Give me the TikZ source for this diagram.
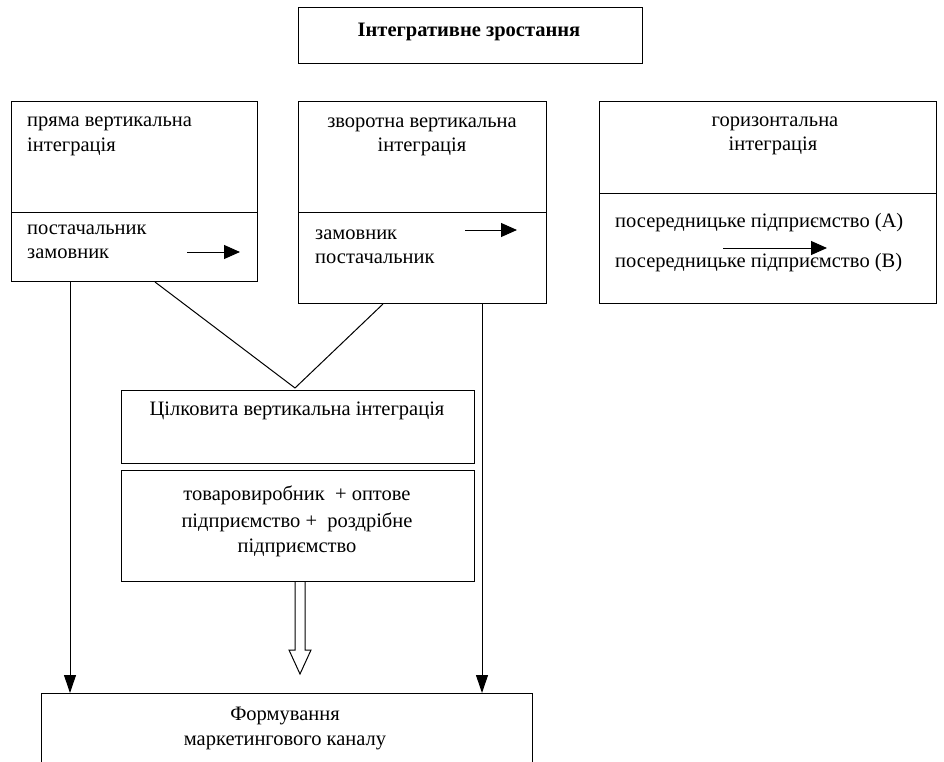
\documentclass[tikz,border=0pt]{standalone}
\usepackage{fontspec}
\setmainfont{Liberation Serif}
\usetikzlibrary{arrows.meta,calc}
\begin{document}
\begin{tikzpicture}[x=1pt,y=-1pt,
  box/.style={draw, line width=1pt, inner sep=0, anchor=north west},
  txt/.style={inner sep=0, font=\fontsize{20.5}{26}\selectfont},
  arr/.style={-{Triangle[width=12pt,length=18pt]}, line width=1pt},
  sarr/.style={-{Triangle[width=14pt,length=16pt]}, line width=1pt},
  ln/.style={line width=1pt}]
\useasboundingbox (0,0) rectangle (944,762);
% boxes
\node[box, minimum width=344pt, minimum height=56pt] (top) at (298,7) {};
\node[box, minimum width=246pt, minimum height=180pt] (b1) at (11,101) {};
\node[box, minimum width=248pt, minimum height=202pt] (b2) at (298,101) {};
\node[box, minimum width=337pt, minimum height=202pt] (b3) at (599,101) {};
\node[box, minimum width=353pt, minimum height=73pt] (c1) at (121,390) {};
\node[box, minimum width=353pt, minimum height=111pt] (c2) at (121,470) {};
\node[box, minimum width=491pt, minimum height=100pt] (fm) at (41,693) {};
% dividers
\draw[ln] ($(b1.north west)+(0,111)$) -- ($(b1.north east)+(0,111)$);
\draw[ln] ($(b2.north west)+(0,111)$) -- ($(b2.north east)+(0,111)$);
\draw[ln] ($(b3.north west)+(0,92)$) -- ($(b3.north east)+(0,92)$);
% texts
\node[txt, anchor=base, font=\fontsize{20.5}{26}\selectfont\bfseries] (t0) at (469,37) {Інтегративне зростання};
\node[txt, anchor=base west] (t11) at (27,127) {пряма вертикальна};
\node[txt, anchor=base west] (t12) at (27,152) {інтеграція};
\node[txt, anchor=base west] (t13) at (27,234) {постачальник};
\node[txt, anchor=base west] (t14) at (27,258) {замовник};
\node[txt, anchor=base] (t21) at (422,128) {зворотна вертикальна};
\node[txt, anchor=base] (t22) at (422,152) {інтеграція};
\node[txt, anchor=base west] (t23) at (315,239) {замовник};
\node[txt, anchor=base west] (t24) at (315,263) {постачальник};
\node[txt, anchor=base] (t31) at (775,127) {горизонтальна};
\node[txt, anchor=base] (t32) at (773,151) {інтеграція};
\node[txt, anchor=base west] (t33) at (615,227) {посередницьке підприємство (А)};
\node[txt, anchor=base west] (t34) at (615,267) {посередницьке підприємство (В)};
\node[txt, anchor=base] (t41) at (297,415) {Цілковита вертикальна інтеграція};
\node[txt, anchor=base] (t51) at (297,500) {товаровиробник~ + оптове};
\node[txt, anchor=base] (t52) at (297,527) {підприємство +~ роздрібне};
\node[txt, anchor=base] (t53) at (297,552) {підприємство};
\node[txt, anchor=base] (t61) at (285,720) {Формування};
\node[txt, anchor=base] (t62) at (285,745) {маркетингового каналу};
% small arrows
\draw[sarr] ($(b1.north west)+(176,151)$) -- ++(53,0);
\draw[sarr] ($(b2.north west)+(167,129)$) -- ++(52,0);
\draw[sarr] ($(b3.north west)+(124,147)$) -- ++(104,0);
% V connectors
\coordinate (apex) at ($(c1.north west)+(174,-2)$);
\draw[ln] ($(b1.south west)+(144,0)$) -- (apex) -- ($(b2.south west)+(85,0)$);
% long arrows
\draw[arr] ($(b1.south west)+(59,0)$) coordinate (la) -- (la |- fm.north);
\draw[arr] ($(b2.south west)+(184,0)$) coordinate (ra) -- (ra |- fm.north);
% hollow arrow
\draw[ln, line join=miter] ($(c2.south west)+(174,0)$) -- ++(0,68) -- ++(-6,0) -- ++(11,24) -- ++(11,-24) -- ++(-6,0) -- ++(0,-68);
\end{tikzpicture}
\end{document}
